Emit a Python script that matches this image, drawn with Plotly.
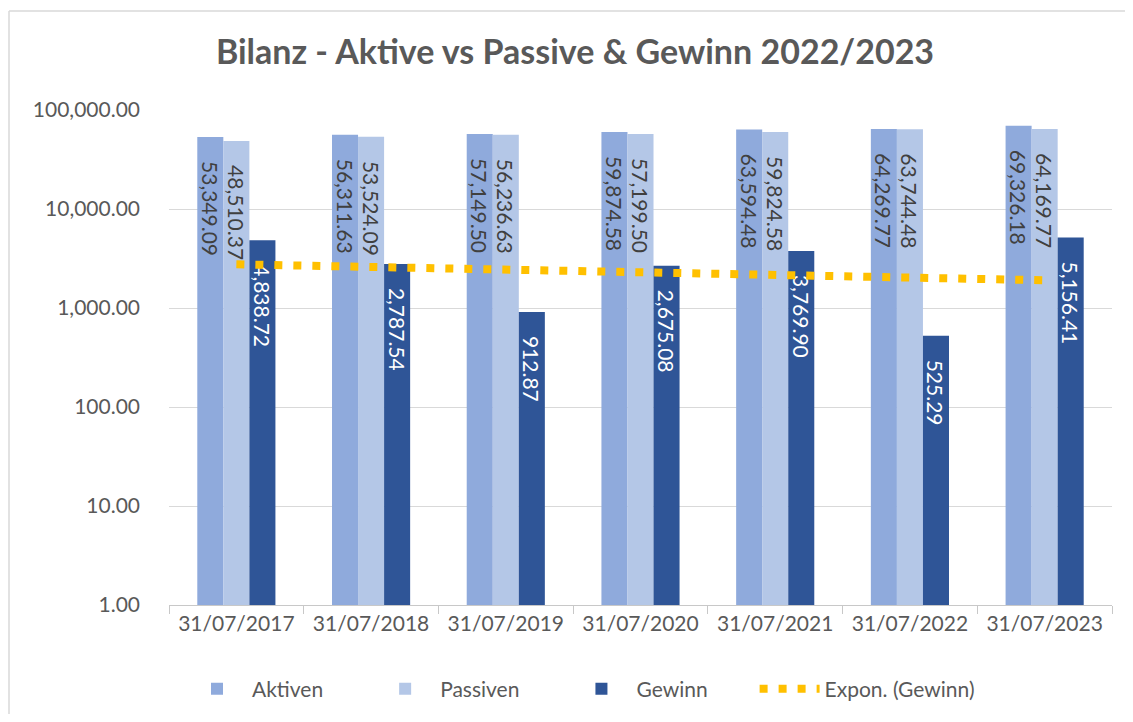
import numpy as np
import plotly.graph_objects as go

dates = ["31/07/2017", "31/07/2018", "31/07/2019", "31/07/2020",
         "31/07/2021", "31/07/2022", "31/07/2023"]
aktiven = [53349.09, 56311.63, 57149.50, 59874.58, 63594.48, 64269.77, 69326.18]
passiven = [48510.37, 53524.09, 56236.63, 57199.50, 59824.58, 63744.48, 64169.77]
gewinn = [4838.72, 2787.54, 912.87, 2675.08, 3769.90, 525.29, 5156.41]

FONT = "Lato"
GREY = "#595959"

# exponential trendline of Gewinn (least squares on ln y, like Excel)
idx = np.arange(1, len(gewinn) + 1)
b, a = np.polyfit(idx, np.log(gewinn), 1)
trend = np.exp(a + b * idx)

pad = "\u2002\u2002"
gap = "\u2003\u2003\u2002"

fig = go.Figure()
fig.add_trace(go.Bar(
    x=dates, y=aktiven, name="Aktiven" + gap,
    marker=dict(color="#8FAADC", line=dict(width=0)),
    texttemplate=pad + "%{y:,.2f}", textposition="inside",
    insidetextanchor="end", textangle=90, constraintext="none",
    textfont=dict(family=FONT, size=21, color="#404040"),
))
fig.add_trace(go.Bar(
    x=dates, y=passiven, name="Passiven" + gap,
    marker=dict(color="#B4C7E7", line=dict(width=0)),
    texttemplate=pad + "%{y:,.2f}", textposition="inside",
    insidetextanchor="end", textangle=90, constraintext="none",
    textfont=dict(family=FONT, size=21, color="#404040"),
))
fig.add_trace(go.Bar(
    x=dates, y=gewinn, name="Gewinn" + gap,
    marker=dict(color="#2F5597", line=dict(width=0)),
    texttemplate=pad + "%{y:,.2f}", textposition="inside",
    insidetextanchor="end", textangle=90, constraintext="none",
    textfont=dict(family=FONT, size=21, color="white"),
))
fig.add_trace(go.Scatter(
    x=dates, y=trend, name="Expon. (Gewinn)", mode="lines",
    line=dict(color="#FFC000", width=8, dash="8px,11px"),
))

# the page body has an 8px margin, so work in figure coords = window - 8
OFF = 8
W, H = 1133 - 2 * OFF, 722 - 2 * OFF
L, T = 169 - OFF, 110 - OFF
R, B = W - (1112 - OFF), H - (605 - OFF)
pw, ph = W - L - R, H - T - B

def px(x):
    return (x - OFF - L) / pw

def py(y):
    return (H - B - (y - OFF)) / ph

border = dict(color="#D9D9D9", width=1.5)

fig.update_layout(
    width=W, height=H,
    margin=dict(l=L, r=R, t=T, b=B, autoexpand=False),
    paper_bgcolor="white", plot_bgcolor="white",
    font=dict(family=FONT, size=21, color=GREY),
    title=dict(text="<b>Bilanz - Aktive vs Passive & Gewinn 2022/2023</b>",
               x=(575 - OFF) / W, xanchor="center",
               y=1 - (52 - OFF) / H, yanchor="middle",
               font=dict(family=FONT, size=34, color=GREY)),
    barmode="group", bargap=0.42, bargroupgap=0,
    showlegend=True,
    legend=dict(orientation="h", x=px(581), xanchor="center",
                y=py(689), yanchor="middle", itemwidth=60,
                font=dict(family=FONT, size=21, color=GREY),
                traceorder="normal"),
    xaxis=dict(type="category", showline=True, linecolor="#C8C8C8",
               linewidth=1, ticks="outside", tickson="boundaries",
               ticklen=8, tickcolor="#C8C8C8", showgrid=False,
               automargin=False,
               tickfont=dict(family=FONT, size=21, color=GREY)),
    yaxis=dict(type="log", range=[0, 5],
               tickvals=[1, 10, 100, 1000, 10000, 100000],
               tickformat=",.2f", showgrid=True, gridcolor="#D9D9D9",
               gridwidth=1, showline=False, zeroline=False,
               ticklabelstandoff=28, automargin=False,
               tickfont=dict(family=FONT, size=21, color=GREY)),
    shapes=[
        dict(type="line", xref="paper", yref="paper",
             x0=px(9), x1=px(1140), y0=py(11), y1=py(11), line=border),
        dict(type="line", xref="paper", yref="paper",
             x0=px(9), x1=px(9), y0=py(11), y1=py(740), line=border),
    ],
)

fig.write_html("out.html")
